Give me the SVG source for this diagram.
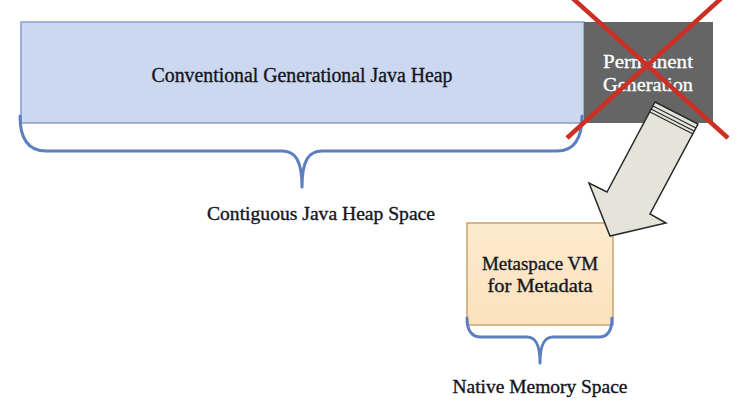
<svg xmlns="http://www.w3.org/2000/svg" width="751" height="406" viewBox="0 0 751 406">
<defs>
<style>
.lbl{font-family:"Liberation Serif","DejaVu Serif",serif;fill:#15151f;stroke:#15151f;stroke-width:0.35;}
.wht{font-family:"Liberation Serif","DejaVu Serif",serif;fill:#ffffff;stroke:#ffffff;stroke-width:0.3;}
.brace{fill:none;stroke:#5b7fbf;stroke-width:3;stroke-linecap:round;stroke-linejoin:round;}
.x{stroke:#cc2f24;stroke-width:4.5;stroke-linecap:butt;}
.stripe{stroke:#2a2a2a;stroke-width:1.2;fill:none;}
</style>
<linearGradient id="og" x1="0" y1="0" x2="0" y2="1">
<stop offset="0" stop-color="#fdeacd"/>
<stop offset="1" stop-color="#fbe2bd"/>
</linearGradient>
</defs>
<rect width="751" height="406" fill="#ffffff"/>

<g id="java-heap">
<rect x="21" y="22" width="563" height="101" fill="#cbd8ef" stroke="#869fcd" stroke-width="1.5"/>
<text class="lbl" x="302" y="82" font-size="20" text-anchor="middle" textLength="301" lengthAdjust="spacingAndGlyphs">Conventional Generational Java Heap</text>
</g>

<g id="permanent-generation">
<rect x="584" y="22" width="129" height="101" fill="#656565"/>
<text class="wht" x="648" y="68" font-size="18" text-anchor="middle" textLength="90" lengthAdjust="spacingAndGlyphs">Permanent</text>
<text class="wht" x="648" y="91" font-size="18" text-anchor="middle" textLength="90" lengthAdjust="spacingAndGlyphs">Generation</text>
</g>

<g id="metaspace">
<rect x="467" y="223" width="146" height="102" fill="url(#og)" stroke="#c9a36d" stroke-width="1.5"/>
<text class="lbl" x="540" y="270" font-size="19" text-anchor="middle" textLength="116" lengthAdjust="spacingAndGlyphs">Metaspace VM</text>
<text class="lbl" x="540" y="292" font-size="19" text-anchor="middle" textLength="105" lengthAdjust="spacingAndGlyphs">for Metadata</text>
</g>

<g id="contiguous-label">
<path class="brace" d="M20,116 Q20,151 46,151 L282,151 C295,151 302,160 302,187 C302,160 309,151 322,151 L557,151 Q582,151 582,116"/>
<text class="lbl" x="321" y="220" font-size="18" text-anchor="middle" textLength="228" lengthAdjust="spacingAndGlyphs">Contiguous Java Heap Space</text>
</g>

<g id="native-label">
<path class="brace" d="M467,318 Q467,337 481,337 L527,337 C535,337 540,343 540,363 C540,343 545,337 553,337 L599,337 Q612,337 612,318"/>
<text class="lbl" x="540" y="393" font-size="18" text-anchor="middle" textLength="175" lengthAdjust="spacingAndGlyphs">Native Memory Space</text>
</g>

<g id="connectors">
<polygon points="655,102 698,124 650,214 666,223 610,236 589,183 607,192" fill="#e4e4da" stroke="#2a2a2a" stroke-width="1.5" stroke-linejoin="miter"/>
<line class="stripe" x1="653" y1="106" x2="696" y2="128"/>
<line class="stripe" x1="651" y1="109" x2="694" y2="131"/>
<line class="stripe" x1="650" y1="112" x2="693" y2="134"/>
</g>

<g id="cross">
<line class="x" x1="569" y1="-5" x2="728" y2="138"/>
<line class="x" x1="725" y1="-5" x2="567" y2="138"/>
</g>
</svg>
